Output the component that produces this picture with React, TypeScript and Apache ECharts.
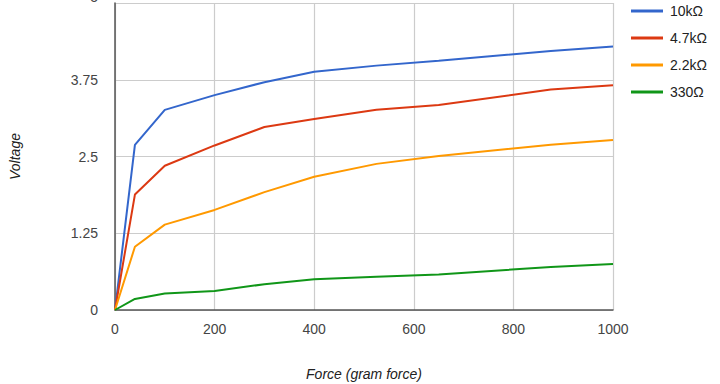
import React, { useEffect, useRef } from "react";
import * as echarts from "echarts";

const forceValues = [0, 40, 100, 200, 300, 400, 525, 650, 875, 1000];
const seriesNames = ["10kΩ", "4.7kΩ", "2.2kΩ", "330Ω"];
const v10k = [0, 2.69, 3.26, 3.5, 3.71, 3.88, 3.98, 4.06, 4.22, 4.29];
const v4k7 = [0, 1.88, 2.35, 2.68, 2.98, 3.11, 3.26, 3.34, 3.59, 3.66];
const v2k2 = [0, 1.03, 1.39, 1.63, 1.92, 2.17, 2.38, 2.51, 2.69, 2.77];
const v330 = [0, 0.18, 0.27, 0.31, 0.42, 0.5, 0.54, 0.58, 0.7, 0.75];
const yTicks = [0, 1.25, 2.5, 3.75, 5];
const xTicks = [0, 200, 400, 600, 800, 1000];
const colors = ["#3366cc", "#dc3912", "#ff9900", "#109618"];

export default function App() {
  const ref = useRef<HTMLDivElement>(null);
  useEffect(() => {
    if (!ref.current) return;
    const chart = echarts.init(ref.current, null, { renderer: "svg" });
    const allValues = [v10k, v4k7, v2k2, v330];
    const font = "Liberation Sans, Arial, sans-serif";
    const yMax = yTicks[yTicks.length - 1];
    chart.setOption({
      animation: false,
      color: colors,
      textStyle: { fontFamily: font },
      grid: {
        left: 115,
        right: 107,
        top: 3,
        bottom: 74,
        containLabel: false,
        outerBoundsMode: "none",
      },
      legend: {
        orient: "vertical",
        left: 626,
        top: -1,
        icon: "rect",
        itemWidth: 32,
        itemHeight: 3,
        itemGap: 13,
        textStyle: { fontSize: 14, color: "#222", fontFamily: font, padding: [0, 0, 0, 2] },
        data: seriesNames,
      },
      xAxis: {
        type: "value",
        min: xTicks[0],
        max: xTicks[xTicks.length - 1],
        interval: 200,
        name: "Force (gram force)",
        nameLocation: "middle",
        nameGap: 57,
        nameTextStyle: { fontStyle: "italic", fontSize: 14, color: "#222", fontFamily: font },
        axisLine: { show: true, lineStyle: { color: "#555", width: 1.5 } },
        axisTick: { show: false },
        axisLabel: {
          fontSize: 14,
          color: "#444",
          margin: 12,
          fontFamily: font,
          formatter: (v: number) => String(v),
        },
        splitLine: { show: true, lineStyle: { color: "#ccc", width: 1.2 } },
      },
      yAxis: {
        type: "value",
        min: yTicks[0],
        max: yMax,
        interval: 1.25,
        name: "Voltage",
        nameLocation: "middle",
        nameGap: 93,
        nameRotate: 90,
        nameTextStyle: { fontStyle: "italic", fontSize: 14, color: "#222", fontFamily: font },
        axisLine: { show: true, lineStyle: { color: "#555", width: 1.5 } },
        axisTick: { show: false },
        axisLabel: {
          fontSize: 14,
          color: "#444",
          margin: 17,
          fontFamily: font,
          formatter: (v: number) => (v === yMax ? "{t|" + v + "}" : String(v)),
          rich: { t: { fontSize: 14, color: "#444", fontFamily: font, padding: [0, 0, 12, 0] } },
        },
        splitLine: { show: true, lineStyle: { color: "#ccc", width: 1.2 } },
      },
      series: seriesNames.map((name, i) => ({
        name,
        type: "line",
        showSymbol: false,
        symbol: "none",
        lineStyle: { width: 2 },
        data: forceValues.map((f, j) => [f, allValues[i][j]]),
      })),
    });
    return () => chart.dispose();
  }, []);
  return (
    <div
      ref={ref}
      style={{ position: "fixed", left: 0, top: 0, width: 720, height: 384, background: "#fff" }}
    />
  );
}
